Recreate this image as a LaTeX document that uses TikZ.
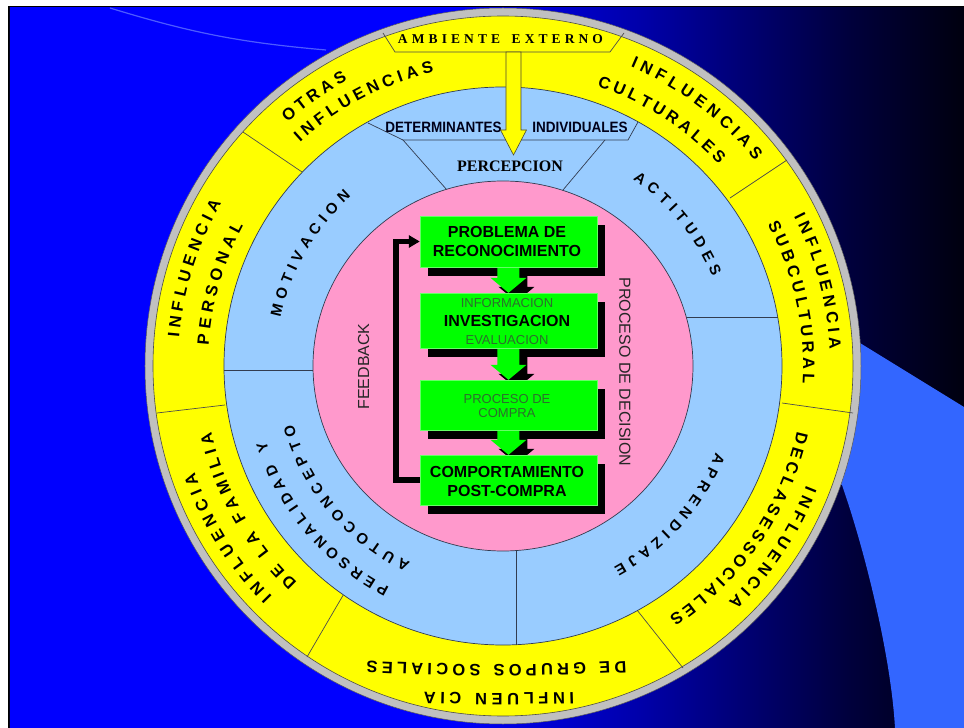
\documentclass[tikz,border=0pt]{standalone}
\usepackage{fontspec}
\setmainfont{Liberation Sans}
\newfontfamily\serifbf{Liberation Serif}
\usetikzlibrary{decorations.text,arrows.meta,calc}
\definecolor{ylw}{RGB}{255,255,0}
\definecolor{lblue}{RGB}{153,204,255}
\definecolor{pinkc}{RGB}{255,153,204}
\definecolor{grn}{RGB}{0,255,0}
\definecolor{ringgray}{RGB}{192,192,192}
\definecolor{bgmid}{RGB}{0,0,170}
\definecolor{bgdark}{RGB}{0,0,60}
\definecolor{bgend}{RGB}{0,0,15}
\definecolor{lightbg}{RGB}{51,102,255}
\definecolor{lineC}{RGB}{50,60,80}
\definecolor{txtgreen}{RGB}{45,110,45}
\definecolor{faintc}{RGB}{110,130,255}
\pgfdeclarehorizontalshading{bgshade}{100bp}{color(0bp)=(blue); color(25bp)=(blue); color(48bp)=(blue); color(58bp)=(bgmid); color(69bp)=(bgdark); color(75bp)=(bgend); color(100bp)=(bgend)}
\pgfdeclarelayer{rings}
\pgfdeclarelayer{shadowl}
\pgfdeclarelayer{arrowl}
\pgfsetlayers{rings,shadowl,arrowl,main}
\newcommand\ringfont{\bfseries\fontsize{16.5}{16.5}\selectfont}
\newcommand\bluefont{\bfseries\fontsize{15}{15}\selectfont}
\newcommand\arctxt[5]{\path[decorate,decoration={text along path,text align={fit to path},text={|#4|#5}}] (#2:#1) arc[start angle=#2,end angle=#3,radius=#1];}
\newcommand\garrowpath[3]{($(#1.south)+(-11,0)+(#3)$) -- ($(#2.north)+(-11,15)+(#3)$) -- ($(#2.north)+(-18,15)+(#3)$) -- ($(#2.north)+(#3)$) -- ($(#2.north)+(18,15)+(#3)$) -- ($(#2.north)+(11,15)+(#3)$) -- ($(#1.south)+(11,0)+(#3)$) -- cycle}
\begin{document}
\begin{tikzpicture}[x=1pt,y=1pt,
  ysep/.style={draw=black!70,line width=0.7pt},
  bsep/.style={draw=lineC,line width=0.7pt},
  box/.style={fill=grn,draw=green!60!white,line width=0.4pt,minimum width=177pt,inner sep=0pt},
  btxt/.style={font=\bfseries\fontsize{16}{16}\selectfont,inner sep=0pt,text=black},
  ltxt/.style={font=\fontsize{13}{13}\selectfont,inner sep=0pt,text=txtgreen},
  fb/.style={line width=5.5pt,-{Triangle[length=11pt,width=12pt]}}]
\useasboundingbox (-503,-362) rectangle (461,366);
\begin{pgfonlayer}{rings}
% background
\fill[white] (-503,-362) rectangle (461,366);
\fill[black] (-495,-362) rectangle (461,360);
\shade[shading=bgshade] (-493,-362) rectangle (461,358);
\fill[lightbg] (330,39.6) -- (461,-41) -- (461,-362) -- (392,-362) .. controls (388,-290) and (362,-185) .. (339,-119) -- (300,-100) -- cycle;
\draw[faintc,line width=1.2pt,opacity=0.7] (-393,358) to[bend right=6] (-177,316);
% rings
\filldraw[fill=ringgray,draw=gray!70!black,line width=0.5pt] (0,0) circle[radius=358];
\filldraw[fill=ylw,draw=gray!60!black,line width=0.6pt] (0,0) circle[radius=350];
\draw[ysep] (-260,234) -- (-201,194);
\draw[ysep] (-346,-47) -- (-278,-39);
\draw[ysep] (-196,-291) -- (-158,-226);
\draw[ysep] (180,-302) -- (134,-244);
\draw[ysep] (350,-47) -- (279,-37);
\draw[ysep] (284,206) -- (227,168);
\draw[ysep] (-120,333) -- (-108,314) -- (107,314) -- (121,333);
\filldraw[fill=lblue,draw=lineC,line width=0.7pt] (0,0) circle[radius=279];
\draw[bsep] (-279,-4) -- (-185,-4);
\draw[bsep] (175,49) -- (275,49);
\draw[bsep] (13,-180) -- (13,-279);
\draw[bsep] (-135,243) -- (-100,226) -- (125,226) -- (135,244);
\draw[bsep] (-100,226) -- (-51.6,171);
\draw[bsep] (102,226) -- (55.8,171);
\filldraw[fill=pinkc,draw=lineC,line width=0.7pt] (0,0) ellipse[x radius=190,y radius=185];
% ring texts
\arctxt{325.1}{131.5}{118.6}{\ringfont}{OTRAS}
\arctxt{302.1}{132.2}{103.2}{\ringfont}{INFLUENCIAS}
\arctxt{325.1}{175}{150}{\ringfont}{INFLUENCIA}
\arctxt{295.1}{176}{151.6}{\ringfont}{PERSONAL}
\arctxt{326.1}{225}{199}{\ringfont}{INFLUENCIA}
\arctxt{299.1}{226.5}{192.8}{\ringfont}{DE LA FAMILIA}
\arctxt{326.1}{338.5}{313.7}{\ringfont}{INFLUENCIA}
\arctxt{301.1}{347.5}{303.5}{\ringfont}{DECLASESSOCIALES}
\arctxt{327.1}{27.2}{2.9}{\ringfont}{INFLUENCIA}
\arctxt{300.1}{28.2}{-3.4}{\ringfont}{SUBCULTURAL}
\arctxt{325.1}{66.9}{39.2}{\ringfont}{INFLUENCIAS}
\arctxt{295.1}{71.4}{43}{\ringfont}{CULTURALES}
\path[decorate,decoration={text along path,text align={fit to path},text={|\ringfont|DE GRUPOS SOCIALES}}] (123,-295) .. controls (40,-299.5) and (-50,-299.5) .. (-136,-295);
\path[decorate,decoration={text along path,text align={fit to path},text={|\ringfont|INFLUEN CIA}}] (71,-326) .. controls (25,-327.5) and (-30,-327.5) .. (-79,-326);
\path[decorate,decoration={text along path,text align={fit to path},text={|\serifbf\bfseries\fontsize{13.5}{13.5}\selectfont|AMBIENTE EXTERNO}}] (-105,322) -- (100,322);
\arctxt{227.6}{167.8}{131.9}{\bluefont}{MOTIVACION}
\arctxt{227.6}{55.2}{23.1}{\bluefont}{ACTITUDES}
\arctxt{229.6}{338}{298.8}{\bluefont}{APRENDIZAJE}
\arctxt{248.6}{242.8}{197.6}{\bluefont}{PERSONALIDAD Y}
\arctxt{217.6}{244.8}{195.5}{\bluefont}{AUTOCONCEPTO}
% centre texts
\node[font=\serifbf\bfseries\fontsize{16}{16}\selectfont,inner sep=0pt] (percep) at (7,200) {PERCEPCION};
\node[font=\bfseries\fontsize{15}{15}\selectfont,inner sep=0pt,text=black!90!blue] (det) at (-59.5,238.5) {\scalebox{0.9}[1]{DETERMINANTES}};
\node[font=\bfseries\fontsize{15}{15}\selectfont,inner sep=0pt,text=black!90!blue] (ind) at (77,238.5) {\scalebox{0.9}[1]{INDIVIDUALES}};
\node[font=\fontsize{16}{16}\selectfont,inner sep=0pt,text=black!85,rotate=90] (feed) at (-139.5,-0.5) {FEEDBACK};
\node[font=\fontsize{16}{16}\selectfont,inner sep=0pt,text=black!85,rotate=-90] (pdec) at (122,-6) {PROCESO DE DECISION};
% yellow arrow
\coordinate (amb) at (10.5,314);
\coordinate (percT) at (10.5,211);
\filldraw[fill=ylw,draw=black!60!olive,line width=0.6pt] ($(amb)+(-7.5,0)$) -- ($(percT)+(-7.5,25)$) -- ($(percT)+(-13,25)$) -- (percT) -- ($(percT)+(13,25)$) -- ($(percT)+(7.5,25)$) -- ($(amb)+(7.5,0)$) -- cycle;
\end{pgfonlayer}
% boxes
\node[box,minimum height=51pt] (b1) at (5.5,124.5) {};
\node[box,minimum height=55pt] (b2) at (5.5,45.5) {};
\node[box,minimum height=50pt] (b3) at (5.5,-39) {};
\node[box,minimum height=50pt] (b4) at (5.5,-114) {};
\node[btxt] (t1a) at (4,134) {PROBLEMA DE};
\node[btxt] (t1b) at (4,115) {RECONOCIMIENTO};
\node[ltxt] (t2a) at (4,63) {INFORMACION};
\node[btxt] (t2b) at (4,45) {INVESTIGACION};
\node[ltxt] (t2c) at (4,26) {EVALUACION};
\node[ltxt] (t3a) at (4,-33) {PROCESO DE};
\node[ltxt] (t3b) at (4,-47) {COMPRA};
\node[btxt] (t4a) at (4,-106) {COMPORTAMIENTO};
\node[btxt] (t4b) at (4,-125) {POST-COMPRA};
\begin{pgfonlayer}{shadowl}
\foreach \b in {b1,b2,b3,b4}{\fill[black] ($(\b.south west)+(8,-9)$) rectangle ($(\b.north east)+(8,-9)$);}
\fill[black] \garrowpath{b1}{b2}{8,-9};
\fill[black] \garrowpath{b2}{b3}{8,-9};
\fill[black] \garrowpath{b3}{b4}{8,-9};
\end{pgfonlayer}
\begin{pgfonlayer}{arrowl}
\fill[grn] \garrowpath{b1}{b2}{0,0};
\fill[grn] \garrowpath{b2}{b3}{0,0};
\fill[grn] \garrowpath{b3}{b4}{0,0};
\draw[fb] (b4.west) -- ++(-24,0) |- (b1.west);
\end{pgfonlayer}
\end{tikzpicture}
\end{document}
